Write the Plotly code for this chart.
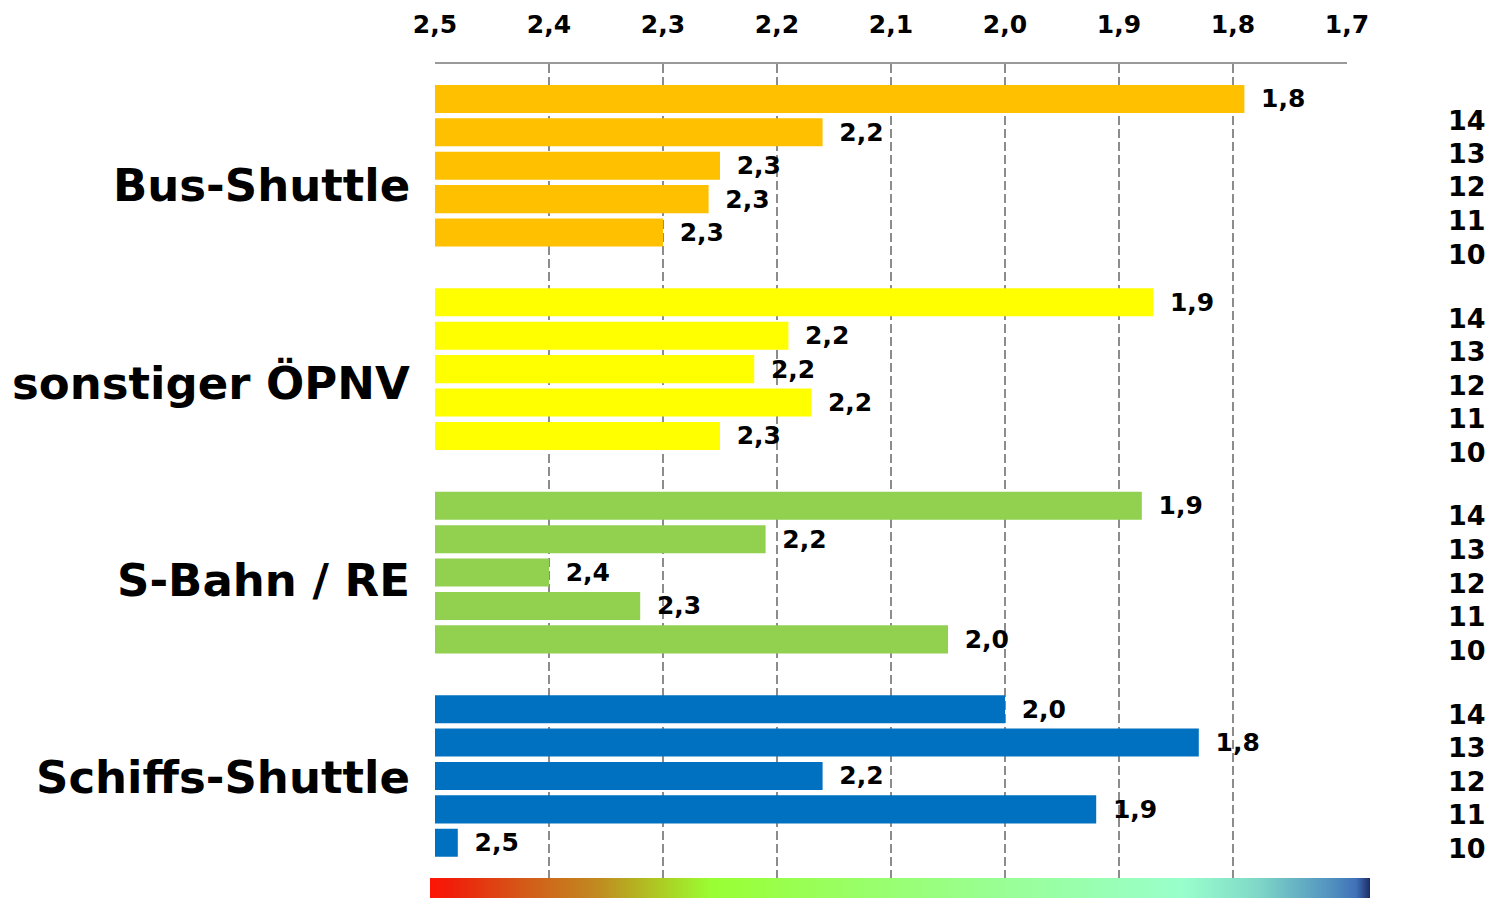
import plotly.graph_objects as go

categories = ["Bus-Shuttle", "sonstiger ÖPNV", "S-Bahn / RE", "Schiffs-Shuttle"]
cat_colors = ["#FFC000", "#FFFF00", "#92D050", "#0070C0"]
years = ["10", "11", "12", "13", "14"]

# values per year, in category order
v10 = [2.30, 2.25, 2.05, 2.48]
v11 = [2.26, 2.17, 2.32, 1.92]
v12 = [2.25, 2.22, 2.40, 2.16]
v13 = [2.16, 2.19, 2.21, 1.83]
v14 = [1.79, 1.87, 1.88, 2.00]
values = [v10, v11, v12, v13, v14]

l10 = ["2,3", "2,3", "2,0", "2,5"]
l11 = ["2,3", "2,2", "2,3", "1,9"]
l12 = ["2,3", "2,2", "2,4", "2,2"]
l13 = ["2,2", "2,2", "2,2", "1,8"]
l14 = ["1,8", "1,9", "1,9", "2,0"]
labels = [l10, l11, l12, l13, l14]

tick_vals = [2.5, 2.4, 2.3, 2.2, 2.1, 2.0, 1.9, 1.8, 1.7]
tick_text = ["2,5", "2,4", "2,3", "2,2", "2,1", "2,0", "1,9", "1,8", "1,7"]

scale_base = 2.5

gradient_pos = [0.00, 0.02, 0.10, 0.18, 0.24, 0.30, 0.45, 0.62, 0.80, 0.88, 0.96, 0.985, 1.00]
gradient_col = ["#ff1505", "#f01e0a", "#d45a18", "#c08c20", "#aec822", "#99ff33", "#99ff66",
                "#99ff99", "#99ffcc", "#80d8c8", "#5090c0", "#4070b8", "#1a2a60"]

FONT = "DejaVu Sans"
OFF = 8  # page body margin
W, H = 1491, 893
ML, MR, MT, MB = 422, 129, 56, 3
PW, PH = W - ML - MR, H - MT - MB


def px(p):
    return (p - OFF - ML) / PW


def py(p):
    return (H - MB - (p - OFF)) / PH


fig = go.Figure()
for yr, vals, labs in zip(years, values, labels):
    fig.add_trace(go.Bar(
        y=categories,
        x=[v - scale_base for v in vals],
        base=scale_base,
        orientation="h",
        name=yr,
        marker=dict(color=cat_colors, line=dict(width=0)),
        text=["\u00a0\u2009" + t for t in labs],
        textposition="outside",
        textfont=dict(family=FONT, size=25, color="black", weight="bold"),
        constraintext="none",
        cliponaxis=False,
        hoverinfo="skip",
    ))

# gradient strip under the chart
fig.add_trace(go.Heatmap(
    x=gradient_pos, y=[0], z=[gradient_pos], zsmooth="best",
    colorscale=[[p, c] for p, c in zip(gradient_pos, gradient_col)],
    zmin=0, zmax=1, showscale=False, hoverinfo="skip",
    xaxis="x2", yaxis="y2",
))

annotations = []
cat_label_px = [185, 384, 581, 777]
for cat, p in zip(categories, cat_label_px):
    annotations.append(dict(
        text=cat, xref="paper", yref="paper", x=px(412), y=py(p),
        xanchor="right", yanchor="middle", showarrow=False,
        font=dict(family=FONT, size=45, color="black", weight="bold")))

year_top_px = [120, 318, 516, 714]
for top in year_top_px:
    for j, yr in enumerate(reversed(years)):
        annotations.append(dict(
            text=yr, xref="paper", yref="paper", x=px(1488), y=py(top + j * 33.5),
            xanchor="right", yanchor="middle", showarrow=False,
            font=dict(family=FONT, size=27, color="black", weight="bold")))

fig.update_layout(
    width=W, height=H,
    margin=dict(l=ML, r=MR, t=MT, b=MB, pad=0, autoexpand=False),
    paper_bgcolor="white", plot_bgcolor="white",
    barmode="group", bargap=0.179, bargroupgap=0.16,
    showlegend=False,
    annotations=annotations,
    xaxis=dict(
        domain=[px(435), px(1347)], anchor="y",
        range=[2.5, 1.7], side="top", tickmode="array", tickvals=tick_vals, ticktext=tick_text,
        showgrid=True, gridcolor="#8c8c8c", gridwidth=2, griddash="9px,4px",
        showline=True, linecolor="#9a9a9a", linewidth=2, ticks="", zeroline=False,
        tickfont=dict(family=FONT, size=25, color="black", weight="bold"),
        ticklabelstandoff=19, automargin=False,
    ),
    yaxis=dict(
        domain=[py(877.7), 1], anchor="x",
        categoryorder="array", categoryarray=list(reversed(categories)),
        range=[-0.5, 3.5], showticklabels=False, showgrid=False, zeroline=False,
        showline=False, ticks="", automargin=False,
    ),
    xaxis2=dict(domain=[0, 1], anchor="y2", range=[0, 1], visible=False, fixedrange=True),
    yaxis2=dict(domain=[0, py(878)], anchor="x2", range=[-0.5, 0.5], visible=False, fixedrange=True),
)

fig.write_html("out.html")
